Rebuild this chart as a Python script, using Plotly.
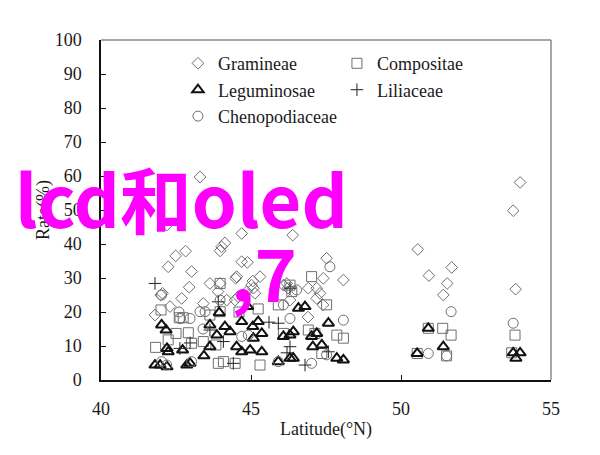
import plotly.graph_objects as go

# ---- data (latitude °N, rate %) ----
gram_x = [43.3, 42.2, 44.69, 46.39, 44.13, 44.02, 43.97, 42.82, 42.49, 47.52, 42.24, 43.02, 44.69, 44.88,
          44.49, 45.06, 45.3, 43.63, 43.97, 42.94, 41.99, 42.05, 42.69, 43.41, 42.3, 41.8, 44.86, 45.08,
          45.13, 43.9, 44.19, 46.08, 48.08, 47.41, 44.52, 45.02, 46.23, 46.91, 47.19, 47.3, 44.47, 44.57,
          47.19, 47.4, 46.19, 46.3, 46.9, 53.97, 53.74, 50.56, 50.93, 51.69, 51.54, 51.41, 53.82]
gram_y = [59.7, 45.6, 43.1, 42.6, 40.3, 39.2, 38.0, 37.9, 36.5, 35.8, 33.3, 31.9, 34.8, 34.6,
          29.9, 29.1, 30.4, 28.4, 28.4, 27.3, 25.0, 25.5, 24.0, 22.5, 21.6, 19.1, 26.0, 27.0,
          25.5, 26.0, 23.5, 27.9, 29.4, 29.9, 30.4, 27.9, 27.0, 27.0, 27.0, 25.5, 23.5, 24.5,
          24.0, 22.1, 28.4, 23.5, 18.5, 58.1, 49.8, 38.4, 30.7, 33.1, 28.4, 25.0, 26.7]

comp_x = [42.0, 41.82, 42.24, 42.5, 42.61, 42.74, 42.91, 43.02, 43.41, 43.83, 43.63, 43.97, 43.97, 43.91,
          44.08, 44.47, 45.3, 45.24, 45.91, 46.3, 46.36, 47.02, 47.52, 46.91, 47.13, 47.86, 48.08, 47.36,
          46.08, 44.6, 50.91, 51.39, 51.67, 53.8, 50.54, 51.52, 53.69]
comp_y = [20.6, 9.6, 11.8, 13.7, 18.3, 18.3, 13.9, 10.8, 11.3, 10.3, 19.1, 28.4, 20.1, 4.9,
          5.4, 4.9, 4.4, 20.9, 22.1, 27.9, 26.0, 30.4, 22.1, 14.7, 13.7, 13.2, 12.3, 7.8,
          13.7, 20.0, 15.2, 15.2, 13.2, 13.2, 7.8, 7.1, 8.0]

legu_x = [42.02, 42.17, 41.8, 41.97, 42.2, 42.24, 42.2, 42.72, 42.86, 42.97, 43.43, 43.63, 43.86, 43.63,
          43.94, 44.13, 44.3, 44.52, 44.69, 44.97, 44.89, 44.69, 45.06, 45.24, 45.08, 45.36, 45.36, 45.91,
          46.3, 46.41, 46.08, 46.3, 46.41, 46.58, 46.8, 47.02, 47.19, 47.06, 47.36, 47.58, 47.86, 48.08,
          50.91, 51.41, 50.54, 53.74, 53.97, 53.83]
legu_y = [16.2, 14.7, 4.4, 4.4, 3.9, 8.3, 9.3, 8.8, 4.4, 4.9, 7.1, 9.8, 13.2, 16.2,
          19.8, 15.7, 14.2, 9.8, 8.3, 8.8, 21.6, 17.2, 15.7, 17.2, 12.3, 13.7, 8.3, 5.4,
          6.4, 6.4, 12.8, 13.2, 14.2, 21.1, 21.6, 12.8, 13.7, 9.8, 10.3, 16.7, 6.4, 5.9,
          15.2, 9.8, 7.8, 8.0, 8.0, 6.4]

lili_x = [41.8, 43.91, 44.08, 42.97, 44.41, 42.63, 45.91, 46.3, 46.8, 46.3, 47.58, 43.63, 45.6, 46.2]
lili_y = [28.4, 23.0, 11.3, 10.9, 4.9, 9.3, 16.7, 9.8, 4.4, 27.0, 8.3, 14.7, 17.0, 8.0]

cheno_x = [42.02, 42.63, 42.97, 43.3, 43.47, 42.02, 42.19, 43.02, 44.69, 44.91, 43.97, 46.08, 46.52,
           47.63, 48.08, 46.3, 45.91, 47.52, 47.02, 43.4, 42.6, 51.67, 53.74, 50.91, 51.52]
cheno_y = [25.0, 18.1, 18.1, 20.1, 20.1, 5.4, 4.4, 5.4, 12.8, 13.2, 23.5, 22.1, 26.5,
           33.3, 17.6, 18.1, 5.4, 7.4, 4.9, 15.0, 20.0, 20.1, 16.7, 7.8, 7.1]

SERIF = "Liberation Serif"
GRAY = "#6e6e6e"
TXT = "#1a1a1a"

fig = go.Figure()
fig.add_trace(go.Scatter(x=gram_x, y=gram_y, mode="markers", name="Gramineae",
                         marker=dict(symbol="diamond-open", size=9, color=GRAY, line=dict(width=1, color=GRAY))))
fig.add_trace(go.Scatter(x=comp_x, y=comp_y, mode="markers", name="Compositae",
                         marker=dict(symbol="square-open", size=10, color=GRAY, line=dict(width=1, color=GRAY))))
fig.add_trace(go.Scatter(x=legu_x, y=legu_y, mode="markers", name="Leguminosae",
                         marker=dict(symbol="triangle-up-open", size=10, color="#111111", line=dict(width=2, color="#111111"))))
fig.add_trace(go.Scatter(x=lili_x, y=lili_y, mode="markers", name="Liliaceae",
                         marker=dict(symbol="cross-thin-open", size=9, color="#222222", line=dict(width=1, color="#222222"))))
fig.add_trace(go.Scatter(x=cheno_x, y=cheno_y, mode="markers", name="Chenopodiaceae",
                         marker=dict(symbol="circle-open", size=10, color=GRAY, line=dict(width=1, color=GRAY))))

fig.update_layout(
    width=600, height=455,
    margin=dict(l=101, r=49, t=40, b=75),
    paper_bgcolor="white", plot_bgcolor="white",
    font=dict(family=SERIF, size=18, color=TXT),
    showlegend=True,
    legend=dict(orientation="h", x=0.171, y=0.985, xanchor="left", yanchor="top",
                bgcolor="rgba(0,0,0,0)", font=dict(family=SERIF, size=18, color=TXT),
                entrywidth=114, entrywidthmode="pixels"),
    xaxis=dict(range=[40, 55], dtick=5, tick0=40, showgrid=False, zeroline=False,
               showline=True, linecolor="#111111", linewidth=1.5, mirror=False,
               ticks="inside", ticklen=5, tickcolor="#111111", ticklabelstandoff=12,
               tickfont=dict(family=SERIF, size=18, color=TXT),
               title=dict(text="Latitude(°N)", standoff=4, font=dict(family=SERIF, size=18, color=TXT))),
    yaxis=dict(range=[0, 100], dtick=10, tick0=0, showgrid=False, zeroline=False,
               showline=True, linecolor="#111111", linewidth=1.5, mirror=False,
               ticks="inside", ticklen=5, tickcolor="#111111", ticklabelstandoff=14,
               tickfont=dict(family=SERIF, size=18, color=TXT),
               title=dict(text="Rate(%)", standoff=0, font=dict(family=SERIF, size=18, color=TXT))),
    shapes=[
        dict(type="line", xref="paper", yref="paper", x0=0, x1=1, y0=1, y1=1,
             line=dict(color="#8a8a8a", width=1.5)),
        dict(type="line", xref="paper", yref="paper", x0=1, x1=1, y0=0, y1=1,
             line=dict(color="#8a8a8a", width=1.5)),
    ],
    annotations=[
        dict(text="<b>lcd和oled</b>", xref="paper", yref="paper",
             x=(13 - 101) / 450, y=(380 - 196) / 340, xanchor="left", yanchor="middle",
             showarrow=False, font=dict(family="Noto Sans CJK SC", size=72, color="#FF00FF")),
        dict(text="<b>,7</b>", xref="paper", yref="paper",
             x=(229 - 101) / 450, y=(380 - 270) / 340, xanchor="left", yanchor="middle",
             showarrow=False, font=dict(family="Noto Sans CJK SC", size=72, color="#FF00FF")),
    ],
)

fig.write_html("out.html")
